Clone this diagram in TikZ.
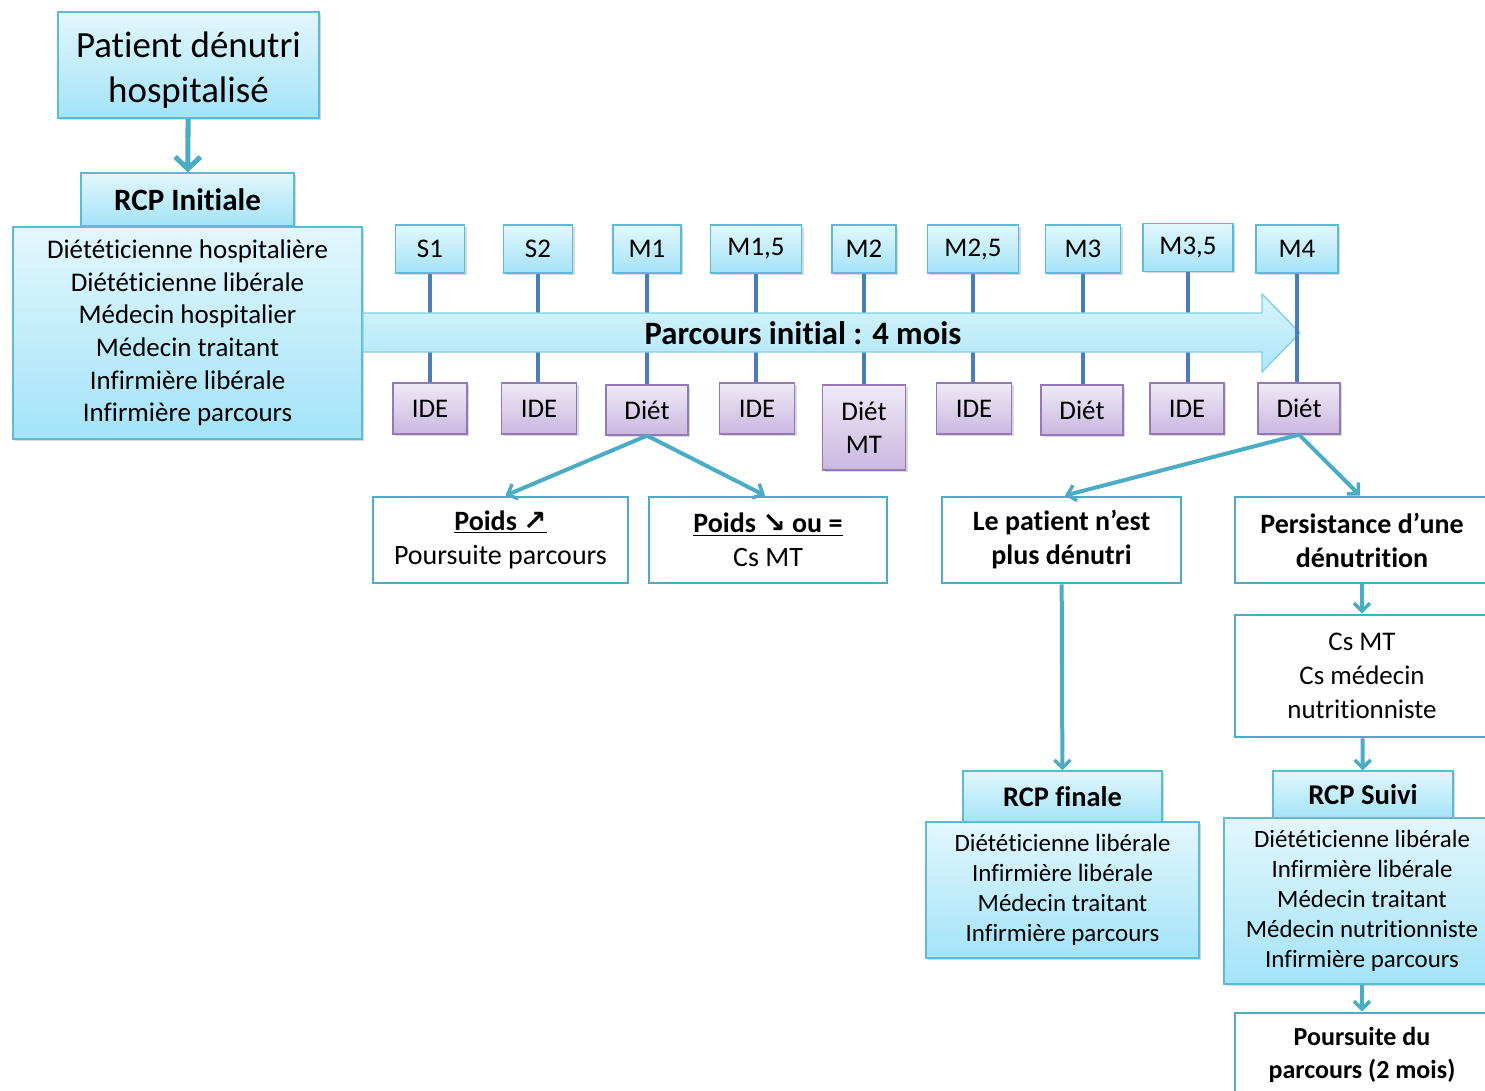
\documentclass[tikz,border=0pt]{standalone}
\usepackage{fontspec}
\setmainfont{Carlito}[RawFeature={-liga;-clig;-dlig;-calt}]
\newfontfamily\symfont{DejaVu Sans}
\usetikzlibrary{arrows.meta,shadows}
\definecolor{gtop}{HTML}{E3F7FD}
\definecolor{gbot}{HTML}{A3E3F8}
\definecolor{gborder}{HTML}{5EBBD5}
\definecolor{ptop}{HTML}{EFEAF6}
\definecolor{pbot}{HTML}{CAB7E0}
\definecolor{pborder}{HTML}{9479B8}
\definecolor{teal}{HTML}{4BACC6}
\definecolor{vblue}{HTML}{4A7EBB}
\definecolor{tltop}{HTML}{DAF4FC}
\definecolor{tlbot}{HTML}{ACE6F8}
\definecolor{tlborder}{HTML}{80D0E6}
\newcommand\ftitle{\fontsize{27.7}{33.75}\selectfont}
\newcommand\flist{\fontsize{20.2}{24.5}\selectfont}
\newcommand\fsmall{\fontsize{18.7}{22.5}\selectfont}
\newcommand\ftl{\fontsize{24.5}{28}\selectfont\bfseries}
\newcommand\fwhite{\fontsize{21}{25.5}\selectfont}
\newcommand\fpours{\fontsize{19.5}{24.75}\selectfont\bfseries}
\begin{document}
\begin{tikzpicture}[x=0.75pt,y=-0.75pt,
  sz/.style 2 args={minimum width=#1*0.75pt, minimum height=#2*0.75pt},
  shadowed/.style={drop shadow={opacity=0.3,shadow xshift=1.5pt,shadow yshift=-1.5pt}},
  gbox/.style={draw=gborder, line width=1pt, top color=gtop, bottom color=gbot, shadowed, inner sep=0pt, align=center, text=black},
  pbox/.style={draw=pborder, line width=1pt, top color=ptop, bottom color=pbot, shadowed, inner sep=0pt, align=center, text=black, font=\flist},
  tbox/.style={gbox, font=\flist, sz={#1}{48}},
  wbox/.style={draw=teal, line width=2.2pt, fill=white, inner sep=0pt, align=center, font=\fwhite},
  conn/.style={draw=teal, line width=3pt, -{Straight Barb[length=6pt,width=12pt,line width=2.6pt]}},
  vline/.style={draw=vblue, line width=2.3pt}]
\useasboundingbox (0,0) rectangle (1485,1091);

% top left
\node[gbox, sz={261}{106}, font=\ftitle] (patient) at (188.5,65) {\parbox{190pt}{\centering\vspace*{8pt}Patient dénutri\\hospitalisé}};
\node[gbox, sz={213}{53}, font={\fontsize{23.3}{27}\selectfont\bfseries}] (rcpi) at (187.5,199.5) {RCP Initiale};
\node[gbox, sz={349}{212}, font=\flist] (rcpibody) at (187.5,333) {Diététicienne hospitalière\\Diététicienne libérale\\Médecin hospitalier\\Médecin traitant\\Infirmière libérale\\Infirmière parcours};

% timeline boxes
\node[tbox=69] (s1) at (430,249) {S1};
\node[tbox=69] (s2) at (538,249) {S2};
\node[tbox=68] (m1) at (647,249) {M1};
\node[tbox=91] (m15) at (756,249) {M1,5};
\node[tbox=64] (m2) at (864,249) {M2};
\node[tbox=91] (m25) at (973,249) {M2,5};
\node[tbox=75] (m3) at (1083,249) {M3};
\node[tbox=90] (m35) at (1188,247.5) {M3,5};
\node[tbox=82] (m4) at (1297,249) {M4};

\node[pbox, sz={74}{51}] (b1) at (430,408.5) {IDE};
\node[pbox, sz={75}{51}] (b2) at (539,408.5) {IDE};
\node[pbox, sz={82}{50}] (b3) at (647,410) {Diét};
\node[pbox, sz={75}{51}] (b4) at (757,408.5) {IDE};
\node[pbox, sz={83}{85}] (b5) at (864,427.5) {Diét\\MT};
\node[pbox, sz={75}{51}] (b6) at (974,408.5) {IDE};
\node[pbox, sz={82}{50}] (b7) at (1082,410) {Diét};
\node[pbox, sz={74}{51}] (b8) at (1187,408.5) {IDE};
\node[pbox, sz={82}{51}] (b9) at (1299,408.5) {Diét};

\foreach \t/\b in {s1/b1,s2/b2,m1/b3,m15/b4,m2/b5,m25/b6,m3/b7,m35/b8}
  \draw[vline] (\t.south) -- (\t.south |- \b.north);

% timeline arrow
\path[draw=tlborder, line width=1pt, top color=tltop, bottom color=tlbot]
  (363,313) -- (1262,313) -- (1262,294) -- (1300,333) -- (1262,372) -- (1262,352) -- (363,352) -- cycle;
\node[font=\ftl] (tl) at (803,333) {Parcours initial : 4 mois};
\draw[vline] (m4.south) -- (m4.south |- b9.north);

% outcome boxes
\node[wbox, sz={255}{86}] (p1) at (500.5,540) {\textbf{\underline{Poids {\symfont\bfseries ↗}}}\\Poursuite parcours};
\node[wbox, sz={238}{86}] (p2) at (768,540) {\textbf{\underline{Poids {\symfont\bfseries ↘} ou =}}\\Cs MT};
\node[wbox, sz={239}{86}, font=\fwhite\bfseries] (ok) at (1061.5,540) {Le patient n’est\\plus dénutri};
\node[wbox, sz={254}{86}, font=\fwhite\bfseries] (pers) at (1362,540) {Persistance d’une\\dénutrition};
\node[wbox, sz={254}{122}, font={\fontsize{20.2}{25.5}\selectfont}] (cs) at (1362,676) {Cs MT\\Cs médecin\\nutritionniste};

\node[gbox, sz={199}{51}, font={\fontsize{21.3}{25}\selectfont\bfseries}] (rcpf) at (1062.5,796.5) {RCP finale};
\node[gbox, sz={273}{136}, font=\fsmall] (rcpfbody) at (1062.5,890) {Diététicienne libérale\\Infirmière libérale\\Médecin traitant\\Infirmière parcours};

\node[gbox, sz={180}{47}, font={\fontsize{21.5}{25}\selectfont\bfseries}] (rcps) at (1363,794.5) {RCP Suivi};
\node[gbox, sz={276}{166}, font=\fsmall] (rcpsbody) at (1362,901) {Diététicienne libérale\\Infirmière libérale\\Médecin traitant\\Médecin nutritionniste\\Infirmière parcours};

\node[wbox, sz={254}{84}, font=\fpours] (pours) at (1362,1055) {Poursuite du\\parcours (2 mois)};

% connectors
\draw[draw=teal, line width=3.8pt, -{Straight Barb[length=9pt,width=19pt,line width=3.8pt]}] (patient) -- (rcpi);
\draw[conn] (b3.south) -- ([xshift=3.75pt]p1.north);
\draw[conn] (b3.south) -- ([xshift=-2.25pt]p2.north);
\draw[conn] (b9.south) -- ([xshift=2.6pt]ok.north);
\draw[conn] (b9.south) -- ([xshift=-1.5pt]pers.north);
\draw[conn] (ok) -- (rcpf);
\draw[conn] (pers) -- (cs);
\draw[conn] (cs) -- (rcps);
\draw[conn] (rcpsbody) -- (pours);
\end{tikzpicture}
\end{document}
